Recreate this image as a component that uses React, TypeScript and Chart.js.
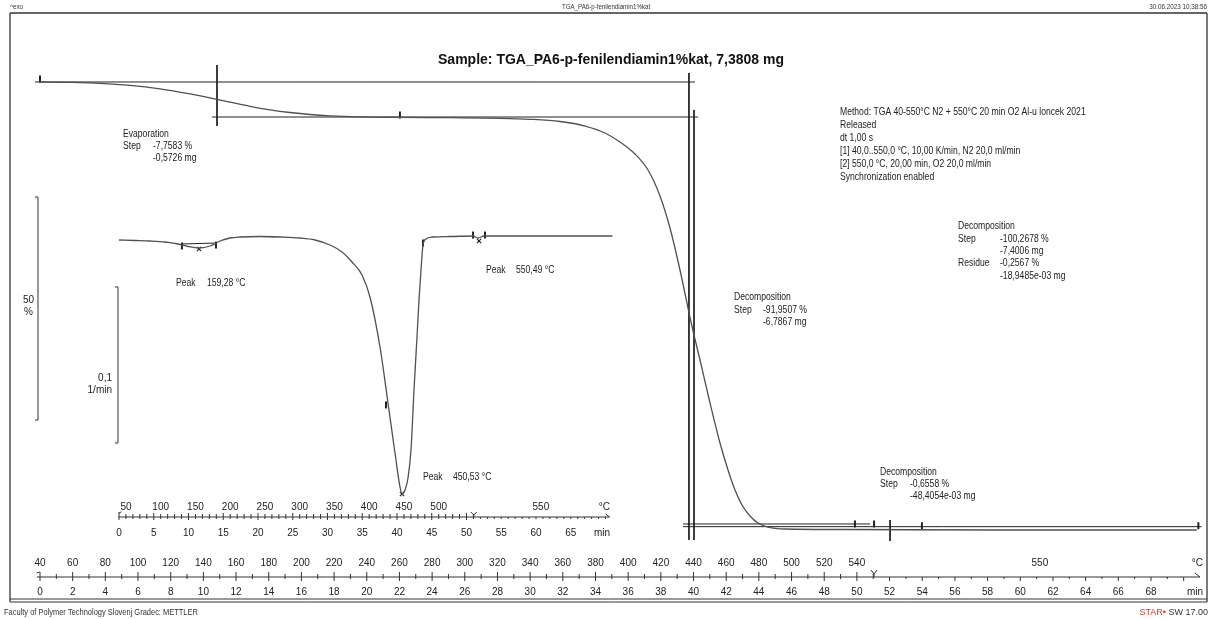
import React, { useEffect, useRef } from "react";
import { Chart, registerables } from "chart.js";
Chart.register(...registerables);

// ---------- data ----------
const tgaTime = [0, 1.836, 3.672, 5.509, 7.345, 9.181, 10.405, 11.629, 12.853, 14.078, 15.302, 16.526, 17.75, 19.586, 22.035, 25.095, 28.155, 29.991, 31.828, 33.358, 34.582, 35.5, 36.418, 37.214, 37.948, 38.56, 39.172, 39.846, 40.397, 41.009, 41.621, 42.11, 42.539, 42.967, 43.457, 43.946, 44.559, 45.599, 49.578, 58.759, 70.8];
const tgaMass = [100, 99.91, 99.71, 99.26, 98.48, 97.35, 96.46, 95.47, 94.55, 93.77, 93.16, 92.71, 92.42, 92.2, 92.08, 91.99, 91.86, 91.64, 91.14, 90.13, 88.57, 86.55, 83.86, 80.27, 74.44, 67.26, 57.85, 46.19, 37.67, 28.03, 19.06, 13.0, 8.52, 5.16, 2.69, 1.12, 0.22, -0.22, -0.34, -0.45, -0.45];

const dtgTime = [0, 2.302, 4.46, 6.619, 8.489, 9.928, 11.511, 13.094, 14.532, 15.971, 17.41, 20.288, 23.165, 26.043, 28.201, 30.36, 32.086, 33.525, 34.964, 36.115, 37.554, 38.705, 39.712, 40.432, 40.719, 41.151, 41.583, 42.014, 42.446, 42.878, 43.165, 43.453, 43.741, 44.173, 45.036, 47.626, 50.935, 51.655, 52.518, 57.698, 71.0];
const dtgRate = [-0.00256, -0.00288, -0.00321, -0.00385, -0.00513, -0.00673, -0.00769, -0.00641, -0.00321, -0.00128, -0.00064, -0.00032, -0.00064, -0.00128, -0.00256, -0.00577, -0.01026, -0.01667, -0.025, -0.0391, -0.07115, -0.10705, -0.1391, -0.1609, -0.16538, -0.16282, -0.15513, -0.13718, -0.09872, -0.06474, -0.04103, -0.02179, -0.00577, -0.00192, -0.00064, -0.00032, 0, -0.00128, 0, 0, 0];

// main axis tick labels
const minuteLabels = [0, 2, 4, 6, 8, 10, 12, 14, 16, 18, 20, 22, 24, 26, 28, 30, 32, 34, 36, 38, 40, 42, 44, 46, 48, 50, 52, 54, 56, 58, 60, 62, 64, 66, 68];
const tempLabels = ["40", "60", "80", "100", "120", "140", "160", "180", "200", "220", "240", "260", "280", "300", "320", "340", "360", "380", "400", "420", "440", "460", "480", "500", "520", "540", "550"];
const tempLabelMinutes = [0, 2, 4, 6, 8, 10, 12, 14, 16, 18, 20, 22, 24, 26, 28, 30, 32, 34, 36, 38, 40, 42, 44, 46, 48, 50, 61.2];

// inset axis tick labels
const insetMinuteLabels = [0, 5, 10, 15, 20, 25, 30, 35, 40, 45, 50, 55, 60, 65];
const insetTempLabels = ["50", "100", "150", "200", "250", "300", "350", "400", "450", "500", "550"];
const insetTempMinutes = [1, 6, 11, 16, 21, 26, 31, 36, 41, 46, 60.7];

// evaluation lines (min, %)
const evapUpperLine = [{ x: -0.306, y: 100 }, { x: 40.09, y: 100 }];
const evapLowerLine = [{ x: 10.53, y: 92.15 }, { x: 40.27, y: 92.15 }];
const evapVertLine = [{ x: 10.834, y: 103.81 }, { x: 10.834, y: 90.13 }];
const decompVertA = [{ x: 39.72, y: 102.02 }, { x: 39.72, y: -2.69 }];
const decompVertB = [{ x: 40.03, y: 93.72 }, { x: 40.03, y: -2.69 }];
const residueLineA = [{ x: 39.36, y: 0.9 }, { x: 50.8, y: 0.9 }];
const residueLineB = [{ x: 39.36, y: 0.3 }, { x: 71.1, y: 0.3 }];
const step3Vert = [{ x: 52.03, y: 1.79 }, { x: 52.03, y: -2.91 }];

// markers
const tgaMarkers = [{ x: 0, y: 100.7 }, { x: 22.03, y: 92.6 }, { x: 49.88, y: 0.9 }, { x: 51.05, y: 0.9 }, { x: 53.98, y: 0.5 }, { x: 70.9, y: 0.5 }];
const dtgBarMarkers = [{ x: 9.06, y: -0.0064 }, { x: 13.96, y: -0.0058 }, { x: 38.42, y: -0.1083 }, { x: 43.74, y: -0.0045 }, { x: 50.94, y: 0.0006 }, { x: 52.66, y: 0.0006 }];
const dtgCrossMarkers = [{ x: 11.51, y: -0.0083 }, { x: 40.72, y: -0.1654 }, { x: 51.8, y: -0.0032 }];
const dtgPeakBaseline = [{ x: 9.06, y: -0.0051 }, { x: 13.96, y: -0.0045 }];

// scale bars
const massBar = [74.22, 24.22];
const rateBar = [-0.03269, -0.13269];

// ---------- styling ----------
const W = 1212;
const H = 619;
const SANS = "'Liberation Sans', Arial, sans-serif";
const CURVE = "#505050";
const INK = "#222222";
const SQUEEZE = 0.86;

function pts(xs: number[], ys: number[]) {
  return xs.map((x, i) => ({ x, y: ys[i] }));
}

function lineDs(data: any[], xAxisID = "x", yAxisID = "y") {
  return {
    data,
    xAxisID,
    yAxisID,
    borderColor: INK,
    borderWidth: 1,
    pointRadius: 0,
    tension: 0,
    clip: false as any,
  };
}

const drawPlugin = {
  id: "mettlerDecor",
  beforeDraw(chart: any) {
    const ctx = chart.ctx;
    ctx.save();
    ctx.fillStyle = "#ffffff";
    ctx.fillRect(0, 0, W, H);
    ctx.restore();
  },
  afterDraw(chart: any) {
    const ctx: CanvasRenderingContext2D = chart.ctx;
    const xs = chart.scales.x;
    const ys = chart.scales.y;
    const x2 = chart.scales.x2;
    const y2 = chart.scales.y2;
    const area = chart.chartArea;

    const line = (a: number, b: number, c: number, d: number) => {
      ctx.beginPath();
      ctx.moveTo(a, b);
      ctx.lineTo(c, d);
      ctx.stroke();
    };
    const text = (
      s: string,
      x: number,
      y: number,
      align: CanvasTextAlign = "left",
      font = `10px ${SANS}`,
      color = INK,
      sx = 1
    ) => {
      ctx.save();
      ctx.font = font;
      ctx.fillStyle = color;
      ctx.textAlign = align;
      ctx.textBaseline = "middle";
      ctx.translate(x, y);
      ctx.scale(sx, 1);
      ctx.fillText(s, 0, 0);
      ctx.restore();
    };
    const note = (s: string, x: number, y: number) => text(s, x, y, "left", `10px ${SANS}`, INK, SQUEEZE);

    ctx.save();
    // frame
    ctx.strokeStyle = "#333";
    ctx.lineWidth = 1.3;
    line(10, 13, 1207, 13);
    line(10, 13, 10, 602);
    line(1207, 13, 1207, 602);
    ctx.lineWidth = 1;
    line(10, 599, 1207, 599);
    line(10, 602, 1207, 602);

    // header / footer
    text("^exo", 10, 7, "left", `7px ${SANS}`, "#333", 0.9);
    text("TGA_PA6-p-fenilendiamin1%kat", 606, 7, "center", `7px ${SANS}`, "#333", 0.88);
    text("30.06.2023 10:38:56", 1207, 7, "right", `7px ${SANS}`, "#333", 0.9);
    text("Faculty of Polymer Technology Slovenj Gradec: METTLER", 4, 613, "left", `9px ${SANS}`, "#333", 0.83);
    ctx.font = `9px ${SANS}`;
    const swW = ctx.measureText(" SW 17.00").width;
    text(" SW 17.00", 1208, 613, "right", `9px ${SANS}`, "#333");
    text("STAR\u2022", 1208 - swW, 613, "right", `9px ${SANS}`, "#e0302a");

    // title
    text("Sample: TGA_PA6-p-fenilendiamin1%kat, 7,3808 mg", 611, 60, "center", `bold 14px ${SANS}`, "#111");

    // ---- main axis ----
    ctx.strokeStyle = "#333";
    ctx.lineWidth = 1;
    const yA = area.bottom;
    const xs0 = xs.getPixelForValue(-0.2);
    const xsEnd = xs.getPixelForValue(71);
    line(xs0, yA, xsEnd, yA);
    line(xsEnd - 5, yA - 4, xsEnd, yA);
    for (let m = 0; m <= 70; m++) {
      const px = xs.getPixelForValue(m);
      const major = m % 2 === 0;
      if (m <= 51) {
        line(px, yA - (major ? 5 : 3), px, yA + (major ? 4 : 2));
      } else {
        line(px, yA, px, yA + (major ? 4 : 2));
      }
    }
    line(xs0, yA - 4, xs0 + 3, yA - 5);
    const yMark = xs.getPixelForValue(51.05);
    line(yMark, yA, yMark, yA - 3);
    line(yMark, yA - 3, yMark - 3, yA - 7);
    line(yMark, yA - 3, yMark + 3, yA - 7);

    minuteLabels.forEach((m) => text(String(m), xs.getPixelForValue(m), yA + 15, "center", `10px ${SANS}`));
    text("min", 1203, yA + 15, "right", `10px ${SANS}`);
    tempLabels.forEach((t, i) => text(t, xs.getPixelForValue(tempLabelMinutes[i]), yA - 14, "center", `10px ${SANS}`));
    text("\u00B0C", 1203, yA - 14, "right", `10px ${SANS}`);

    // ---- inset axis ----
    const yI = y2.getPixelForValue(-0.18013);
    const xi0 = x2.getPixelForValue(-0.1);
    const xiEnd = x2.getPixelForValue(70.6);
    line(xi0, yI, xiEnd, yI);
    line(xiEnd - 4, yI - 3, xiEnd, yI);
    for (let m = 0; m <= 70; m++) {
      const px = x2.getPixelForValue(m);
      const major = m % 5 === 0;
      if (m <= 51) line(px, yI - (major ? 4 : 3), px, yI + (major ? 3 : 2));
      else line(px, yI, px, yI + 2);
    }
    line(xi0, yI - 4, xi0 + 3, yI - 5);
    const yMarkI = x2.getPixelForValue(51.05);
    line(yMarkI, yI, yMarkI, yI - 2);
    line(yMarkI, yI - 2, yMarkI - 3, yI - 5);
    line(yMarkI, yI - 2, yMarkI + 3, yI - 5);

    insetMinuteLabels.forEach((m) => text(String(m), x2.getPixelForValue(m), yI + 16, "center", `10px ${SANS}`));
    text("min", 610, yI + 16, "right", `10px ${SANS}`);
    insetTempLabels.forEach((t, i) => text(t, x2.getPixelForValue(insetTempMinutes[i]), yI - 10, "center", `10px ${SANS}`));
    text("\u00B0C", 610, yI - 10, "right", `10px ${SANS}`);

    // ---- scale bars ----
    ctx.strokeStyle = "#555";
    ctx.lineWidth = 1.2;
    const mTop = ys.getPixelForValue(massBar[0]);
    const mBot = ys.getPixelForValue(massBar[1]);
    line(38, mTop, 38, mBot);
    line(35, mTop, 38, mTop);
    line(35, mBot, 38, mBot);
    const rTop = y2.getPixelForValue(rateBar[0]);
    const rBot = y2.getPixelForValue(rateBar[1]);
    line(118, rTop, 118, rBot);
    line(115, rTop, 118, rTop);
    line(115, rBot, 118, rBot);
    text("50", 34, (mTop + mBot) / 2 - 8, "right", `10px ${SANS}`);
    text("%", 33, (mTop + mBot) / 2 + 4, "right", `10px ${SANS}`);
    text("0,1", 112, (rTop + rBot) / 2 + 13, "right", `10px ${SANS}`);
    text("1/min", 112, (rTop + rBot) / 2 + 25, "right", `10px ${SANS}`);

    // ---- annotation texts ----
    note("Evaporation", 123, 134);
    note("Step", 123, 146);
    note("-7,7583 %", 153, 146);
    note("-0,5726 mg", 153, 158);

    note("Peak", 176, 283);
    note("159,28 \u00B0C", 207, 283);
    note("Peak", 486, 270);
    note("550,49 \u00B0C", 516, 270);
    note("Peak", 423, 477);
    note("450,53 \u00B0C", 453, 477);

    note("Decomposition", 734, 297);
    note("Step", 734, 310);
    note("-91,9507 %", 763, 310);
    note("-6,7867 mg", 763, 322);

    const method = [
      "Method: TGA 40-550\u00B0C N2 + 550\u00B0C 20 min O2 Al-u loncek 2021",
      "Released",
      "dt 1,00 s",
      "[1] 40,0..550,0 \u00B0C, 10,00 K/min, N2 20,0 ml/min",
      "[2] 550,0 \u00B0C, 20,00 min, O2 20,0 ml/min",
      "Synchronization enabled",
    ];
    method.forEach((s, i) => note(s, 840, 112 + i * 13));

    note("Decomposition", 958, 226);
    note("Step", 958, 239);
    note("-100,2678 %", 1000, 239);
    note("-7,4006 mg", 1000, 251);
    note("Residue", 958, 263);
    note("-0,2567 %", 1000, 263);
    note("-18,9485e-03 mg", 1000, 276);

    note("Decomposition", 880, 472);
    note("Step", 880, 484);
    note("-0,6558 %", 910, 484);
    note("-48,4054e-03 mg", 910, 496);

    ctx.restore();
  },
};

export default function App() {
  const ref = useRef<HTMLCanvasElement>(null);
  useEffect(() => {
    const canvas = ref.current;
    if (!canvas) return;
    const markerBase = {
      showLine: false,
      pointStyle: "line",
      pointRotation: 90,
      pointRadius: 3.5,
      pointBorderWidth: 2,
      pointBorderColor: INK,
      pointBackgroundColor: INK,
      borderColor: INK,
      clip: false as any,
    };
    const chart = new Chart(canvas, {
      type: "line",
      data: {
        datasets: [
          {
            data: pts(tgaTime, tgaMass),
            xAxisID: "x",
            yAxisID: "y",
            borderColor: CURVE,
            borderWidth: 1.3,
            pointRadius: 0,
            cubicInterpolationMode: "monotone",
            clip: false as any,
          },
          {
            data: pts(dtgTime, dtgRate),
            xAxisID: "x2",
            yAxisID: "y2",
            borderColor: CURVE,
            borderWidth: 1.3,
            pointRadius: 0,
            cubicInterpolationMode: "monotone",
            clip: false as any,
          },
          lineDs(evapUpperLine),
          lineDs(evapLowerLine),
          lineDs(evapVertLine),
          lineDs(decompVertA),
          lineDs(decompVertB),
          lineDs(residueLineA),
          lineDs(residueLineB),
          lineDs(step3Vert),
          lineDs(dtgPeakBaseline, "x2", "y2"),
          { ...markerBase, data: tgaMarkers, xAxisID: "x", yAxisID: "y" },
          { ...markerBase, data: dtgBarMarkers, xAxisID: "x2", yAxisID: "y2" },
          {
            ...markerBase,
            data: dtgCrossMarkers,
            xAxisID: "x2",
            yAxisID: "y2",
            pointStyle: "crossRot",
            pointRotation: 0,
            pointRadius: 3,
            pointBorderWidth: 1.2,
          },
        ] as any,
      },
      options: {
        animation: false,
        responsive: false,
        devicePixelRatio: 1,
        layout: { padding: { left: 40, right: 12, top: 30, bottom: 42 } },
        scales: {
          x: { type: "linear", axis: "x", display: false, min: 0, max: 71 },
          y: { type: "linear", axis: "y", display: false, min: -10.987, max: 111.659 },
          x2: { type: "linear", axis: "x", display: false, min: -11.367, max: 155.54 },
          y2: { type: "linear", axis: "y", display: false, min: -0.21859, max: 0.13205 },
        } as any,
        plugins: {
          legend: { display: false },
          tooltip: { enabled: false },
        },
        events: [],
      },
      plugins: [drawPlugin],
    });
    return () => chart.destroy();
  }, []);
  return (
    <div style={{ position: "fixed", left: 0, top: 0, width: W, height: H, background: "#fff" }}>
      <canvas ref={ref} width={W} height={H} style={{ display: "block", width: W, height: H }} />
    </div>
  );
}
